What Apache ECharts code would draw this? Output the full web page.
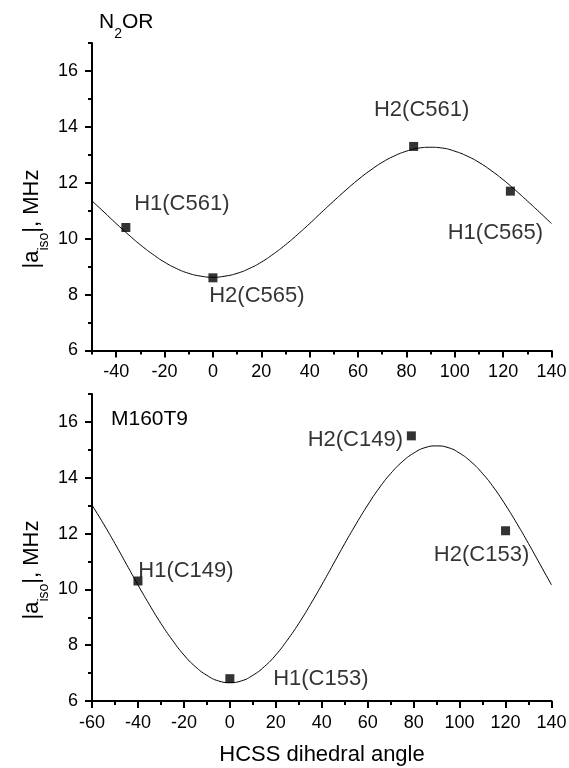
<!DOCTYPE html>
<html><head><meta charset="utf-8">
<script src="https://cdn.jsdelivr.net/npm/echarts@6/dist/echarts.min.js"></script>
<style>html,body{margin:0;padding:0;background:#fff}#c{width:569px;height:768px}</style>
</head><body><div id="c"></div>
<script>
// ---------- Top panel: N2OR ----------
const topPointAngles = [-36, 0, 83, 123];
const topPointValues = [10.4, 8.6, 13.3, 11.7];
const topPointNames = ['H1(C561)', 'H2(C565)', 'H2(C561)', 'H1(C565)'];
const topCurveAngles = [-50,-45,-40,-35,-30,-25,-20,-15,-10,-5,0,5,10,15,20,25,30,35,40,45,50,55,60,65,70,75,80,85,90,95,100,105,110,115,120,125,130,135,140];
const topCurveValues = [11.35,10.95,10.54,10.15,9.78,9.45,9.16,8.93,8.76,8.66,8.62,8.66,8.76,8.93,9.16,9.45,9.78,10.15,10.54,10.95,11.35,11.74,12.11,12.44,12.73,12.96,13.13,13.24,13.27,13.24,13.13,12.96,12.73,12.44,12.11,11.74,11.35,10.95,10.54];

// ---------- Bottom panel: M160T9 ----------
const botPointAngles = [-40, 0, 79, 120];
const botPointValues = [10.3, 6.8, 15.5, 12.1];
const botPointNames = ['H1(C149)', 'H1(C153)', 'H2(C149)', 'H2(C153)'];
const botCurveAngles = [-60,-55,-50,-45,-40,-35,-30,-25,-20,-15,-10,-5,0,5,10,15,20,25,30,35,40,45,50,55,60,65,70,75,80,85,90,95,100,105,110,115,120,125,130,135,140];
const botCurveValues = [13.02,12.35,11.64,10.90,10.16,9.45,8.78,8.18,7.65,7.23,6.92,6.72,6.66,6.72,6.92,7.23,7.65,8.18,8.78,9.45,10.16,10.90,11.64,12.35,13.02,13.63,14.15,14.57,14.88,15.08,15.14,15.08,14.88,14.57,14.15,13.63,13.02,12.35,11.64,10.90,10.16];

// ---------- Tick labels ----------
const topXTicks = [-40,-20,0,20,40,60,80,100,120,140];
const topXMinor = [-50,-30,-10,10,30,50,70,90,110,130];
const botXTicks = [-60,-40,-20,0,20,40,60,80,100,120,140];
const botXMinor = [-50,-30,-10,10,30,50,70,90,110,130];
const yTicks = [6,8,10,12,14,16];
const yMinor = [7,9,11,13,15,17];

// ---------- Layout (label offsets in px, kept apart from data) ----------
const topLabelOffsets = [[56,-24],[44,18],[8,-36],[-15,42]];
const botLabelOffsets = [[48,-10],[91,0],[-56,4],[-24,24]];

const FONT = '"Liberation Sans", Arial, Helvetica, sans-serif';
const INK = '#000';

function majorX(grid, min, max, ticks) {
  return {type:'value', gridIndex:grid, position:'bottom', min:min, max:max,
    axisLine:{show:true, onZero:false, lineStyle:{color:INK, width:2}},
    axisTick:{show:true, inside:false, length:7, customValues:ticks, lineStyle:{color:INK, width:2}},
    axisLabel:{show:true, customValues:ticks, margin:13, color:INK, fontSize:18, fontFamily:FONT},
    splitLine:{show:false}};
}
function minorX(grid, min, max, ticks) {
  return {type:'value', gridIndex:grid, position:'bottom', min:min, max:max,
    axisLine:{show:false, onZero:false},
    axisTick:{show:true, inside:false, length:4, customValues:ticks, lineStyle:{color:INK, width:2}},
    axisLabel:{show:false}, splitLine:{show:false}};
}
function majorY(grid) {
  return {type:'value', gridIndex:grid, position:'left', min:6, max:17,
    axisLine:{show:true, onZero:false, lineStyle:{color:INK, width:2}},
    axisTick:{show:true, inside:false, length:7, customValues:yTicks, lineStyle:{color:INK, width:2}},
    axisLabel:{show:true, customValues:yTicks, margin:14, color:INK, fontSize:18, fontFamily:FONT},
    splitLine:{show:false}};
}
function minorY(grid) {
  return {type:'value', gridIndex:grid, position:'left', min:6, max:17,
    axisLine:{show:false, onZero:false},
    axisTick:{show:true, inside:false, length:4, customValues:yMinor, lineStyle:{color:INK, width:2}},
    axisLabel:{show:false}, splitLine:{show:false}};
}
function curve(xi, yi, xs, ys) {
  return {type:'line', xAxisIndex:xi, yAxisIndex:yi, smooth:true, showSymbol:false, symbol:'none',
    lineStyle:{color:INK, width:1}, silent:true, z:2,
    data: xs.map((a,i)=>[a, ys[i]])};
}
function points(xi, yi, xs, ys, names, offs) {
  return {type:'scatter', xAxisIndex:xi, yAxisIndex:yi, symbol:'rect', symbolSize:9, z:3,
    itemStyle:{color:INK},
    data: xs.map((a,i)=>({name:names[i], value:[a, ys[i]],
      label:{show:true, position:'inside', offset:offs[i], formatter:'{b}',
        color:INK, fontSize:22, fontFamily:FONT, align:'center', verticalAlign:'middle'}}))};
}

function txt(x, y, text, size, align, rot) {
  return {type:'text', x:x, y:y, rotation:rot||0, silent:true,
    style:{text:text, fontSize:size, fontFamily:FONT, fill:INK,
      align:align, textAlign:align, verticalAlign:'middle', textVerticalAlign:'middle',
      rich:{sub:{fontSize:14, fontFamily:FONT, fill:INK, padding:[24,0,0,0]}}}};
}

const chart = echarts.init(document.getElementById('c'), null, {renderer:'canvas'});
chart.setOption({
  backgroundColor:'#fff',
  animation:false,
  grid:[
    {left:92, top:43, width:459.5, height:307.5, containLabel:false, outerBoundsMode:'none'},
    {left:92, top:394, width:459.5, height:307, containLabel:false, outerBoundsMode:'none'}
  ],
  xAxis:[majorX(0,-50,140,topXTicks), minorX(0,-50,140,topXMinor),
         majorX(1,-60,140,botXTicks), minorX(1,-60,140,botXMinor)],
  yAxis:[majorY(0), minorY(0), majorY(1), minorY(1)],
  series:[
    curve(0,0,topCurveAngles,topCurveValues),
    points(0,0,topPointAngles,topPointValues,topPointNames,topLabelOffsets),
    curve(2,2,botCurveAngles,botCurveValues),
    points(2,2,botPointAngles,botPointValues,botPointNames,botLabelOffsets)
  ],
  graphic:[
    txt(99, 22, 'N{sub|2}OR', 21, 'left'),
    txt(111, 419, 'M160T9', 21, 'left'),
    txt(32, 219, '|a{sub|iso}|, MHz', 22, 'center', Math.PI/2),
    txt(32, 570, '|a{sub|iso}|, MHz', 22, 'center', Math.PI/2),
    txt(322, 755, 'HCSS dihedral angle', 22, 'center')
  ]
});
</script></body></html>
